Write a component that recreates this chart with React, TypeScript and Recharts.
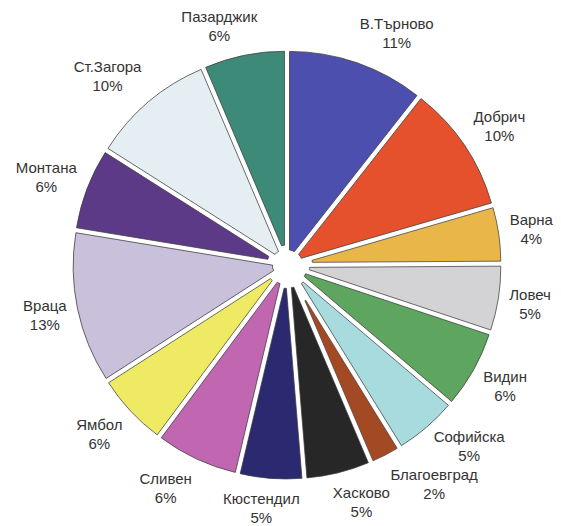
import { Cell, Pie, PieChart } from "recharts";

// Regions clockwise from 12 o'clock
const REGIONS = [
  "В.Търново",
  "Добрич",
  "Варна",
  "Ловеч",
  "Видин",
  "Софийска",
  "Благоевград",
  "Хасково",
  "Кюстендил",
  "Сливен",
  "Ямбол",
  "Враца",
  "Монтана",
  "Ст.Загора",
  "Пазарджик",
];
// wedge sizes as drawn
const SHARES = [10.6, 9.9, 4.4, 5.2, 6.1, 5.0, 2.4, 5.1, 5.0, 6.5, 5.7, 11.7, 6.4, 9.6, 6.4];
// percentages as printed on the chart
const PCT_LABELS = ["11%", "10%", "4%", "5%", "6%", "5%", "2%", "5%", "5%", "6%", "6%", "13%", "6%", "10%", "6%"];
const COLORS = [
  "#4d4fae",
  "#e5512d",
  "#e9b64a",
  "#d3d3d6",
  "#5ea55f",
  "#a7dbde",
  "#a34a25",
  "#272727",
  "#2b2a70",
  "#c166b1",
  "#eeea64",
  "#c9c0dc",
  "#5d3a87",
  "#e5eef2",
  "#3e8a79",
];

const W = 561;
const H = 526;
const CX = 287;
const CY = 265;
const R = 214;
const GAP = 5; // white gap between wedges
const LABEL_GAP = 11;
const LINE = 19;
const FONT = '"Liberation Sans", Arial, sans-serif';
const FS = 15;
const RAD = Math.PI / 180;

const data = REGIONS.map((name, i) => ({ name, value: SHARES[i] }));
const total = SHARES.reduce((a, b) => a + b, 0);

function midAngle(i: number) {
  const before = SHARES.slice(0, i).reduce((a, b) => a + b, 0);
  return 90 - (360 * (before + SHARES[i] / 2)) / total;
}

/** Shrink a wedge about its outer mid point so neighbours keep a constant white gap. */
function insetTransform(i: number) {
  const sweep = (360 * SHARES[i]) / total;
  const mid = midAngle(i);
  const d = GAP / 2 / Math.sin((sweep / 2) * RAD);
  const s = 1 - d / R;
  const px = CX + R * Math.cos(mid * RAD);
  const py = CY - R * Math.sin(mid * RAD);
  return `translate(${px} ${py}) scale(${s}) translate(${-px} ${-py})`;
}

let ctx: CanvasRenderingContext2D | null = null;
function textWidth(t: string) {
  if (!ctx) ctx = document.createElement("canvas").getContext("2d");
  if (!ctx) return t.length * FS * 0.55;
  ctx.font = `${FS}px ${FONT}`;
  return ctx.measureText(t).width;
}

const clamp = (v: number) => Math.max(-1, Math.min(1, v));

type Box = { x: number; y: number; w: number; h: number };

/** Label boxes pushed out past the rim, then crowded neighbours nudged apart. */
function layoutLabels(): Box[] {
  const boxes = REGIONS.map((name, i) => {
    const mid = midAngle(i);
    const ux = Math.cos(mid * RAD);
    const uy = -Math.sin(mid * RAD);
    const w = Math.max(textWidth(name), textWidth(PCT_LABELS[i]));
    const h = LINE * 2;
    const px = CX + (R + LABEL_GAP) * ux;
    const py = CY + (R + LABEL_GAP) * uy;
    return {
      x: px + (clamp(3 * ux) * w) / 2,
      y: py + (clamp(1.2 * uy) * h) / 2,
      w,
      h,
    };
  });
  for (let i = 0; i < boxes.length; i++) {
    const a = boxes[i];
    const b = boxes[(i + 1) % boxes.length];
    const dx = Math.abs(a.x - b.x);
    const dy = Math.abs(a.y - b.y);
    if (dx < (a.w + b.w) / 2 - 6 && dy < (a.h + b.h) / 2) {
      const upper = a.y < b.y ? a : b;
      upper.y -= (a.h + b.h) / 2 - dy;
    }
  }
  return boxes;
}

export default function App() {
  const boxes = layoutLabels();

  const renderLabel = (props: any) => {
    const { index } = props;
    const b = boxes[index];
    return (
      <text
        key={`lbl-${index}`}
        x={b.x}
        y={b.y}
        textAnchor="middle"
        fontFamily={FONT}
        fontSize={FS}
        fill="#333"
      >
        <tspan x={b.x} y={b.y - LINE / 2} dominantBaseline="central">
          {REGIONS[index]}
        </tspan>
        <tspan x={b.x} y={b.y + LINE / 2} dominantBaseline="central">
          {PCT_LABELS[index]}
        </tspan>
      </text>
    );
  };

  return (
    <div
      style={{
        position: "absolute",
        left: 0,
        top: 0,
        width: W,
        height: H,
        background: "#fff",
      }}
    >
      <PieChart width={W} height={H} margin={{ top: 0, right: 0, bottom: 0, left: 0 }}>
        <Pie
          data={data}
          dataKey="value"
          nameKey="name"
          cx={CX}
          cy={CY}
          innerRadius={8}
          outerRadius={R}
          startAngle={90}
          endAngle={-270}
          stroke="#3c3c3c"
          strokeWidth={0.8}
          label={renderLabel}
          labelLine={false}
          isAnimationActive={false}
        >
          {data.map((d, i) => (
            <Cell key={d.name} fill={COLORS[i]} transform={insetTransform(i)} />
          ))}
        </Pie>
      </PieChart>
    </div>
  );
}
